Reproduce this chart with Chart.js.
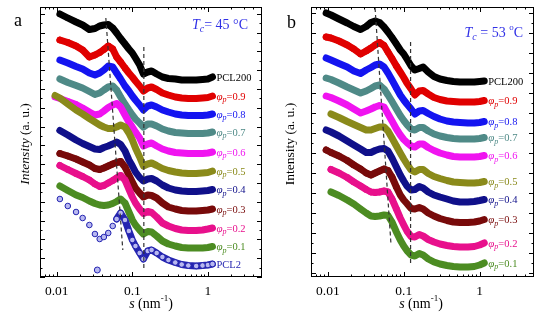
<!DOCTYPE html>
<html>
<head>
<meta charset="utf-8">
<script src="https://cdn.jsdelivr.net/npm/chart.js@4.4.0/dist/chart.umd.min.js"></script>
<style>
  html, body { margin: 0; padding: 0; background: #fff; }
  #wrap { position: relative; width: 550px; height: 332px; overflow: hidden; }
  .panel { position: absolute; top: 0; width: 275px; height: 332px; }
</style>
</head>
<body>
<div id="wrap">
  <div class="panel" style="left:0"><canvas id="chartA" width="275" height="332"></canvas></div>
  <div class="panel" style="left:275px"><canvas id="chartB" width="275" height="332"></canvas></div>
</div>
<script>
// --- data ---
// s grid in nm^-1, shared by every curve
const sValues = [0.0095, 0.011, 0.014, 0.018, 0.022, 0.027, 0.032, 0.037, 0.042, 0.048, 0.055,
                 0.062, 0.07, 0.08, 0.09, 0.1, 0.11, 0.125, 0.14, 0.16, 0.18, 0.21, 0.25, 0.3,
                 0.37, 0.45, 0.55, 0.7, 0.85, 1.0, 1.15];

const tickValues = [0.01, 0.1, 1];
const tickLabels = ['0.01', '0.1', '1'];

// panel a, Tc = 45 C (intensity offset, arbitrary units)
const namesA = ['PCL200', '0.9', '0.8', '0.7', '0.6', '0.5', '0.4', '0.3', '0.2', '0.1', 'PCL2'];
const a_pcl200 = [null, 263, 259, 255, 252, 247.5, 248.5, 251, 252, 252.5, 249, 244, 238.5, 233, 228, 224, 219, 212, 203, 205, 206, 203, 200, 198.5, 198, 197, 197, 197, 197.5, 198, 200];
const a_p09 = [null, 237, 234.5, 231, 227, 220, 222, 224.5, 227.5, 231, 228, 220, 215, 209, 204, 200, 196, 191, 186, 189, 190, 187.5, 184, 182, 180, 179, 178.5, 178.5, 179, 179.5, 181];
const a_p08 = [null, 217, 214, 210.5, 208, 204, 202, 204, 207, 211, 210, 204, 198, 191, 186, 181, 177, 172, 167, 171, 172, 170, 167, 165, 163, 162, 161.5, 161.5, 161.5, 162, 163];
const a_p07 = [null, 198, 194.5, 191.5, 189, 185.5, 182.5, 184, 187, 190, 191, 187, 180, 173, 167, 162, 158, 154, 150, 153, 153, 151, 148, 146, 144.5, 144, 143.5, 143.5, 143.5, 144, 145];
const a_p06 = [180, 178.5, 175.5, 172.5, 169, 165, 162, 163, 166, 169.5, 172, 173.5, 170, 162, 155, 150, 145, 139, 131, 133, 134, 131, 128, 126, 124.5, 124, 123.5, 123.5, 123.5, 124, 125];
const a_p05 = [181.5, 179, 173, 167, 163, 158.5, 155, 152, 150, 148.5, 148.5, 150, 152, 150, 144, 137, 129, 120, 111, 113, 114, 111.5, 108.5, 106.5, 105, 104, 103.5, 103.5, 104, 104.5, 106];
const a_p04 = [null, 146.5, 142, 137, 133.5, 130.5, 128, 127.5, 129.5, 131, 133, 135, 132.5, 126, 117, 111, 105, 99.5, 96, 98, 98.5, 96, 92, 89, 87, 86, 85.5, 85.5, 86, 86.5, 87.5];
const a_p03 = [null, 123.5, 121, 118, 115, 112, 108.5, 107.5, 109, 111, 113, 114.5, 115.5, 110, 102, 95, 89, 84, 80, 82, 81.5, 79, 74, 70, 68, 66.5, 66, 66, 66.5, 67, 68];
const a_p02 = [null, 111.5, 107.5, 103.5, 100.5, 97, 93, 90.5, 91.5, 94, 96.5, 99, 101.5, 97, 88, 80, 74, 68, 63.5, 65.5, 64.5, 60, 54, 51, 48.5, 47, 46.5, 46.5, 47, 48, 49];
const a_p01 = [null, 91, 86.5, 82, 79.5, 76, 73.5, 72, 71.5, 72, 73.5, 75.5, 78, 74, 65, 57, 52, 47, 43, 45.5, 45, 41, 36, 33, 31, 29.5, 29, 29, 29, 29.5, 30.5];
const a_pcl2 = [null, 78, 71, 65, 59, 52, 43, 38, 40, 44, 51, 58, 64, 57, 46, 37, 31, 24, 18, 26, 27, 24, 20, 17, 14.5, 12.5, 11.5, 11, 11.5, 12, 13];
const a_pcl2OutS = [0.0344];
const a_pcl2OutY = [7];

// panel b, Tc = 53 C
const namesB = ['PCL200', '0.9', '0.8', '0.7', '0.6', '0.5', '0.4', '0.3', '0.2', '0.1'];
const b_pcl200 = [264, 262, 258, 254, 250.5, 247.5, 250.5, 254.5, 256, 254.5, 250, 245, 239.5, 233, 227, 223, 218, 211, 207, 208.5, 210, 205, 200.5, 198, 196.5, 195.5, 195, 195, 195, 195.5, 196];
const b_p09 = [240, 239, 236, 232, 228, 223, 226, 229, 232, 234.5, 231.5, 225, 218.5, 211, 205, 199.5, 194, 188, 182, 186, 186.5, 183, 179.5, 177.5, 176, 175.5, 175, 175, 175, 175.5, 176.5];
const b_p08 = [219, 217, 213.5, 210, 206, 203.5, 207, 209.5, 212, 213, 210, 204, 197, 189, 182, 177, 173, 168, 163, 166, 166.5, 163.5, 160.5, 158, 156, 155, 154.5, 154, 154, 154.5, 155.5];
const b_p07 = [199, 197.5, 194, 190, 187, 184, 186, 188.5, 191, 192, 188, 182, 175.5, 168, 161.5, 156.5, 152.5, 148, 147, 149.5, 149.5, 146, 143, 141, 139.5, 138.5, 138, 138, 138, 138.5, 139.5];
const b_p06 = [181, 179.5, 176, 172, 168, 164, 166, 168, 170, 171.5, 170, 163, 156, 148, 142, 137.5, 134.5, 131, 130, 133, 133, 129.5, 126.5, 124, 122, 120.5, 120, 120, 120, 120.5, 121.5];
const b_p05 = [null, 163, 159.5, 155.5, 152.5, 149.5, 147, 147, 148.5, 150, 150, 146, 139, 131, 124, 118, 113, 107, 105, 107.5, 107.5, 103.5, 100.5, 98.5, 96.5, 95, 94.5, 94, 94, 94.5, 95.5];
const b_p04 = [147, 145, 141, 136, 132, 128, 124.5, 124.5, 126.5, 128, 128.5, 126, 119, 110, 102, 96, 91, 87, 87.5, 90.5, 89, 85, 82, 80, 78, 76, 75, 75, 75.5, 76.5, 77.5];
const b_p03 = [127, 124.5, 121, 116.5, 112, 108, 104, 102, 104, 106, 108, 106.5, 100, 90, 82, 77, 73.5, 68.5, 68, 69.5, 68, 64, 61, 58.5, 56.5, 55, 54.5, 54.5, 55, 56, 57.5];
const b_p02 = [null, 107.5, 104, 99.5, 95, 91, 87.5, 85, 84.5, 85, 86, 85, 78, 68, 59, 52, 46, 40.5, 40, 42.5, 41, 37.5, 35, 33, 31.5, 30.5, 30, 30, 30.5, 32, 34];
const b_p01 = [null, 85, 81.5, 77, 73, 68, 64, 61, 60.5, 61, 62, 61.5, 55, 45, 37, 31, 26.5, 22, 21, 23.5, 22, 18, 15, 13, 11.5, 10.5, 10, 10, 10.5, 12, 14];

// dashed guide lines (s, intensity)
const dashA1S = [0.0446, 0.0748], dashA1Y = [259, 27];
const dashA2S = [0.142, 0.142],   dashA2Y = [230, 7];
const dashB1S = [0.0419, 0.068],  dashB1Y = [269, 32];
const dashB2S = [0.123, 0.123],   dashB2Y = [235, 14];

// --- styles ---
const SERIF = '"Liberation Serif", "DejaVu Serif", serif';
const colorsA = ['#000000', '#e00000', '#1414f0', '#4f8a87', '#f014f0', '#8a8a1a', '#10108a', '#780a0a', '#e8108c', '#4c8c22', '#2424b0'];
const stylesA = ['rect', 'circle', 'triangle', 'triangle', 'triangle', 'triangle', 'rectRot', 'circle', 'circle', 'star', 'circle'];
const rotA = [0, 0, 0, 180, -90, 180, 0, 0, 0, 0, 0];
const colorsB = colorsA.slice(0, 10);
const stylesB = ['rect', 'circle', 'triangle', 'triangle', 'triangle', 'triangle', 'rectRot', 'circle', 'circle', 'star'];
const rotB = [0, 0, 0, 180, 90, 180, 0, 0, 0, 0];

function toXY(xs, ys) { return xs.map((x, i) => ({ x: x, y: ys[i] })); }

function curve(vals, i, colors, styles, rots, isOpen) {
  const c = colors[i];
  return {
    data: toXY(sValues, vals),
    borderColor: c,
    borderWidth: 7,
    borderJoinStyle: 'round',
    borderCapStyle: 'round',
    pointStyle: styles[i],
    rotation: rots[i],
    // markers stand out only at low s; at high s the dense data is a solid band
    pointRadius: ctx => isOpen ? 2.8 : (ctx.raw && ctx.raw.x > 0.085 ? 0 : 3),
    pointBorderWidth: 1,
    pointBackgroundColor: isOpen ? '#b8b8f0' : c,
    pointBorderColor: c,
    order: -i,
    segment: isOpen ? { borderColor: ctx => ctx.p0.parsed.x < 0.06 ? 'rgba(0,0,0,0)' : c } : undefined
  };
}

function dashed(xs, ys) {
  return {
    data: toXY(xs, ys),
    borderColor: '#333',
    borderWidth: 1.2,
    borderDash: [4, 3],
    pointRadius: 0,
    order: -100,
    isGuide: true
  };
}

// rich text: parts = [text, font, dy]
function drawRich(ctx, parts, x, y, align) {
  let w = 0;
  parts.forEach(p => { ctx.font = p[1]; w += ctx.measureText(p[0]).width; });
  let cx = align === 'center' ? x - w / 2 : (align === 'right' ? x - w : x);
  parts.forEach(p => {
    ctx.font = p[1];
    ctx.fillText(p[0], cx, y + (p[2] || 0));
    cx += ctx.measureText(p[0]).width;
  });
}

function labelParts(name) {
  if (name.startsWith('PCL')) return [[name, '10.5px ' + SERIF, 0]];
  return [['\u03c6', 'italic 11px ' + SERIF, 0], ['p', 'italic 8px ' + SERIF, 3], ['=' + name, '10.5px ' + SERIF, 0]];
}

// frame with inward ticks on all four sides
const framePlugin = {
  id: 'frame',
  afterDatasetsDraw(chart, args, opts) {
    const { ctx, chartArea: a, scales: { x, y } } = chart;
    ctx.save();
    ctx.strokeStyle = '#000';
    ctx.lineWidth = 1;
    ctx.strokeRect(a.left + 0.5, a.top + 0.5, a.right - a.left - 1, a.bottom - a.top - 1);
    ctx.beginPath();
    for (let d = -3; d <= 1; d++) {
      for (let m = 1; m <= 9; m++) {
        const v = m * Math.pow(10, d);
        if (v < x.min || v > x.max) continue;
        const px = Math.round(x.getPixelForValue(v)) + 0.5;
        const len = m === 1 ? 5 : 2.5;
        ctx.moveTo(px, a.bottom); ctx.lineTo(px, a.bottom - len);
        ctx.moveTo(px, a.top); ctx.lineTo(px, a.top + len);
      }
    }
    for (let k = 0; ; k++) {
      const v = opts.yStart + k * opts.yStep / 2;
      if (v > y.max) break;
      const py = Math.round(y.getPixelForValue(v)) + 0.5;
      const len = k % 2 === 0 ? 5 : 2.5;
      ctx.moveTo(a.left, py); ctx.lineTo(a.left + len, py);
      ctx.moveTo(a.right, py); ctx.lineTo(a.right - len, py);
    }
    ctx.stroke();
    ctx.restore();
  }
};

// curve labels, titles, panel letter
const textPlugin = {
  id: 'texts',
  afterDraw(chart, args, o) {
    const { ctx, chartArea: a, scales: { x, y } } = chart;
    ctx.save();
    ctx.textBaseline = 'middle';
    // curve labels at the right end of each curve
    chart.data.datasets.forEach((ds) => {
      if (ds.isGuide || !ds.seriesName) return;
      const last = ds.data[ds.data.length - 1];
      ctx.fillStyle = ds.labelColor;
      drawRich(ctx, labelParts(ds.seriesName), x.getPixelForValue(last.x) + 4, y.getPixelForValue(last.y) + 1, 'left');
    });
    // panel letter
    ctx.fillStyle = '#000';
    ctx.font = '18px ' + SERIF;
    ctx.textAlign = 'left';
    ctx.fillText(o.letter, o.letterX, o.letterY);
    // Tc
    ctx.fillStyle = '#3030e6';
    drawRich(ctx, o.tcParts, a.right - o.tcRight, o.tcY, 'right');
    // x title
    ctx.fillStyle = '#000';
    drawRich(ctx, [['s', 'italic 14px ' + SERIF, 0], [' (nm', '14px ' + SERIF, 0], ['-1', '9px ' + SERIF, -5], [')', '14px ' + SERIF, 0]],
      o.xTitleX, 304, 'center');
    // y title
    ctx.translate(o.yTitleX, (a.top + a.bottom) / 2 + 2);
    ctx.rotate(-Math.PI / 2);
    drawRich(ctx, [['Intensity', (o.yItalic ? 'italic ' : '') + '13.5px ' + SERIF, 0], [' (a. u.)', '13.5px ' + SERIF, 0]], 0, 0, 'center');
    ctx.restore();
  }
};

function makeChart(id, datasets, padRight, yWidth, frameOpts, textOpts) {
  return new Chart(document.getElementById(id), {
    type: 'line',
    data: { datasets: datasets },
    options: {
      responsive: false,
      animation: false,
      layout: { padding: { top: 7, right: padRight, left: 0, bottom: 0 } },
      plugins: { legend: { display: false }, tooltip: { enabled: false }, frame: frameOpts, texts: textOpts },
      scales: {
        x: {
          type: 'logarithmic', min: 0.006, max: 5.2,
          grid: { display: false, drawTicks: false }, border: { display: false },
          ticks: {
            autoSkip: false, maxRotation: 0, padding: 6, color: '#000',
            font: { family: SERIF, size: 13.5 },
            callback: v => {
              const k = tickValues.findIndex(t => Math.abs(v - t) / t < 1e-6);
              return k >= 0 ? tickLabels[k] : '';
            }
          },
          afterFit: s => { s.height = 55; }
        },
        y: {
          type: 'linear', min: 0, max: 270,
          grid: { display: false, drawTicks: false }, border: { display: false },
          ticks: { display: false },
          afterFit: s => { s.width = yWidth; }
        }
      }
    },
    plugins: [framePlugin, textPlugin]
  });
}

// --- panel a ---
const seriesA = [a_pcl200, a_p09, a_p08, a_p07, a_p06, a_p05, a_p04, a_p03, a_p02, a_p01, a_pcl2];
const dsA = seriesA.map((vals, i) => {
  const d = curve(vals, i, colorsA, stylesA, rotA, namesA[i] === 'PCL2');
  d.seriesName = namesA[i];
  d.labelColor = colorsA[i];
  return d;
});
dsA.push({
  data: toXY(a_pcl2OutS, a_pcl2OutY), showLine: false, pointStyle: 'circle', pointRadius: 3,
  pointBackgroundColor: '#b8b8f0', pointBorderColor: colorsA[10], order: -10
});
dsA.push(dashed(dashA1S, dashA1Y), dashed(dashA2S, dashA2Y));

makeChart('chartA', dsA, 13, 40, { yStart: 0, yStep: 18.8 }, {
  letter: 'a', letterX: 14, letterY: 21,
  tcParts: [['T', 'italic 14px ' + SERIF, 0], ['c', 'italic 10px ' + SERIF, 4], ['= 45 \u00b0C', '14px ' + SERIF, 0]],
  tcRight: 14, tcY: 25, xTitleX: 151, yTitleX: 25, yItalic: true
});

// --- panel b ---
const seriesB = [b_pcl200, b_p09, b_p08, b_p07, b_p06, b_p05, b_p04, b_p03, b_p02, b_p01];
const dsB = seriesB.map((vals, i) => {
  const d = curve(vals, i, colorsB, stylesB, rotB, false);
  d.seriesName = namesB[i];
  d.labelColor = colorsB[i];
  return d;
});
dsB.push(dashed(dashB1S, dashB1Y), dashed(dashB2S, dashB2Y));

makeChart('chartB', dsB, 16, 36, { yStart: 3.7, yStep: 20 }, {
  letter: 'b', letterX: 12, letterY: 23,
  tcParts: [['T', 'italic 14px ' + SERIF, 0], ['c', 'italic 10px ' + SERIF, 4], [' = 53 ', '14px ' + SERIF, 0], ['o', '9px ' + SERIF, -5], ['C', '14px ' + SERIF, 0]],
  tcRight: 11, tcY: 33, xTitleX: 146, yTitleX: 15, yItalic: false
});
</script>
</body>
</html>
